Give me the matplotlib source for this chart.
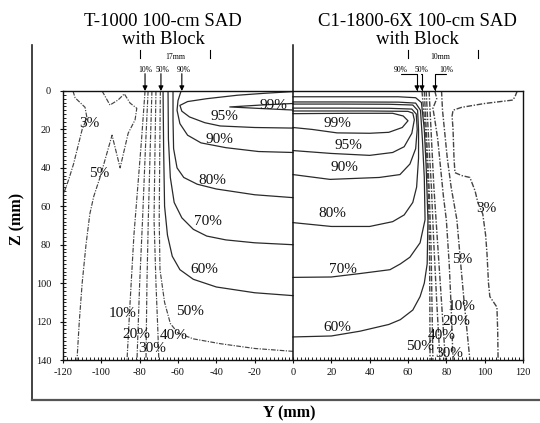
import matplotlib
matplotlib.use("Agg")
import matplotlib.pyplot as plt
from matplotlib.lines import Line2D
from matplotlib.ticker import MultipleLocator

plt.rcParams['font.family'] = ['Liberation Serif', 'DejaVu Serif']
plt.rcParams['axes.unicode_minus'] = False

# ---------------- data ----------------
left_title = ["T-1000 100-cm SAD", "with Block"]
right_title = ["C1-1800-6X 100-cm SAD", "with Block"]
x_ticks = [-120, -100, -80, -60, -40, -20, 0, 20, 40, 60, 80, 100, 120]
z_ticks = [0, 20, 40, 60, 80, 100, 120, 140]

# T-1000 isodose lines, points as (Y mm, Z mm)
T_99 = [(0, 6.5), (-15, 7.2), (-33, 8.3), (-15, 9.2), (0, 9.9)]
T_95 = [(0, 0.3), (-15, 1.2), (-29, 2.2), (-45, 4), (-55, 5.5), (-59, 7.5), (-58, 10.5),
        (-54, 13.5), (-46, 16.5), (-38, 18.2), (-20, 19), (0, 19.3)]
T_90 = [(-58.4, 0), (-60, 5), (-60.5, 10), (-59, 17), (-55, 23), (-48, 27), (-35, 29.5),
        (-18, 31.5), (0, 32)]
T_80 = [(-62.6, 0), (-62.6, 15), (-62.3, 30), (-60.5, 40), (-57, 45), (-50, 48.5),
        (-40, 51), (-20, 54), (0, 55.5)]
T_70 = [(-65.2, 0), (-65, 25), (-64, 45), (-62, 58), (-58, 66), (-52, 72), (-45, 75.5),
        (-35, 77.5), (-20, 79), (0, 80)]
T_60 = [(-67.8, 0), (-67.5, 30), (-67, 60), (-65.5, 75), (-63, 86), (-59, 93), (-52, 98),
        (-40, 102), (-20, 105), (0, 106.5)]
T_50 = [(-69.2, 0), (-69.5, 30), (-69.8, 67), (-69.4, 93), (-67, 110), (-64, 121),
        (-60, 126), (-52, 129), (-38, 131.5), (-20, 134), (0, 135.5)]
T_40 = [(-71.5, 0), (-72, 30), (-72.5, 67), (-71.5, 100), (-70.5, 125), (-70, 140)]
T_30 = [(-73.6, 0), (-74.5, 30), (-75.5, 67), (-76.2, 100), (-76.7, 140)]
T_20 = [(-75.6, 0), (-77, 30), (-78.5, 67), (-80, 100), (-81.4, 140)]
T_10 = [(-77.2, 0), (-79, 25), (-81, 50), (-83, 75), (-85, 110), (-86.6, 140)]
T_5 = [(-99.6, 0), (-95.5, 7.3), (-91.3, 4.7), (-88, 1.5), (-85, 6.3), (-81.5, 9),
       (-82.4, 15), (-86, 22), (-90.2, 40), (-94.4, 23), (-100.7, 45), (-104, 55),
       (-106, 64), (-108, 80), (-110, 100), (-111.5, 120), (-112.7, 140)]
T_3 = [(-114.8, 0), (-113.7, 3.5), (-108.5, 8.5), (-107.5, 14), (-110, 20), (-112, 28),
       (-114.5, 38), (-117, 46), (-119.5, 53)]

# C1-1800-6X isodose lines, points as (Y mm, Z mm)
C_99 = [(0, 11.8), (30, 11.6), (52, 11.6), (57.5, 13), (60, 15.5), (57, 19), (50, 21.5),
        (40, 22), (23, 21.8), (10, 20), (0, 19)]
C_95 = [(0, 10.4), (40, 10.4), (60, 10.6), (62.5, 11.5), (63.3, 15), (62, 22), (58, 29),
        (52, 32), (40, 33.5), (20, 32.5), (0, 31)]
C_90 = [(0, 8.9), (25, 8.9), (50, 9), (62, 9.4), (64.3, 12), (64.8, 20), (64, 30), (61, 38),
        (55.8, 43.5), (45, 45), (19.3, 46), (0, 43.5)]
C_80 = [(0, 6.8), (25, 6.8), (50, 6.9), (62.5, 7.3), (65, 10), (65.5, 20), (65.5, 35),
        (64.5, 50), (62.5, 58), (58, 64.5), (52, 68), (40, 70.5), (20, 70.5), (0, 68.5)]
C_70 = [(0, 5.7), (30, 5.7), (55, 5.8), (64, 6.3), (66.5, 10), (67.5, 25), (68.5, 45),
        (68.9, 67), (66.3, 79), (61, 86.5), (56, 90), (50.6, 93), (35, 95), (20, 96.8), (0, 97)]
C_60 = [(0, 3), (30, 3), (55, 3), (64, 3.5), (67, 6), (68.5, 20), (69.5, 40), (70.4, 67),
        (70, 90), (68.5, 100), (66.3, 107), (62.5, 114), (56, 119), (50, 121.5), (35, 125),
        (20, 127.5), (0, 128)]
C_50 = [(67.3, 0), (69, 20), (70.5, 50), (71.2, 80), (71.4, 110), (71.5, 140)]
C_40 = [(68.5, 0), (69.5, 20), (71, 50), (72, 80), (72.5, 110), (73, 140)]
C_30 = [(69.5, 0), (70.5, 20), (72.2, 50), (73.5, 80), (75, 110), (76.7, 140)]
C_20 = [(71, 0), (72, 20), (73.5, 50), (75.5, 80), (77.5, 110), (79.5, 140)]
C_10 = [(74, 0), (75, 4), (73, 9), (74, 15), (75.5, 25), (77, 40), (78.5, 55), (80, 67),
        (81.5, 90), (82.5, 112), (83.5, 140)]
C_5 = [(77.5, 0), (78, 10), (79, 20), (80.5, 35), (82.5, 50), (85.5, 67), (87.5, 90),
       (89.5, 112), (92.3, 140)]
C_3 = [(117, 0), (116, 2.5), (114.8, 4.7), (100, 6.5), (88, 8.5), (83.5, 10), (83, 13),
       (83.5, 20), (84, 35), (84.5, 42.5), (88, 44), (92.3, 45), (95, 52), (96.5, 58.3),
       (99, 64), (100.5, 75), (101.2, 84.4), (102, 100), (102.7, 107), (106.4, 112.5),
       (106.8, 125), (107, 140)]

t1000_lines = {"99%": T_99, "95%": T_95, "90%": T_90, "80%": T_80, "70%": T_70,
               "60%": T_60, "50%": T_50, "40%": T_40, "30%": T_30, "20%": T_20,
               "10%": T_10, "5%": T_5, "3%": T_3}
c1800_lines = {"99%": C_99, "95%": C_95, "90%": C_90, "80%": C_80, "70%": C_70,
               "60%": C_60, "50%": C_50, "40%": C_40, "30%": C_30, "20%": C_20,
               "10%": C_10, "5%": C_5, "3%": C_3}

# penumbra markers above the phantom surface
left_marker_text = ["10%", "50%", "90%"]
left_marker_y = [-77.2, -68.9, -58.0]
left_width_text = "17mm"
left_width_bounds = [-79.8, -43.3]
right_marker_text = ["90%", "50%", "10%"]
right_marker_y = [64.7, 67.3, 74.1]
right_width_text = "10mm"
right_width_bounds = [60.0, 96.5]

# ---------------- layout ----------------
t1000_label_pos = {"3%": (-106.4, 16.7), "5%": (-101, 43), "10%": (-89, 116),
                   "20%": (-81.6, 126.5), "30%": (-73.4, 134.2), "40%": (-62.5, 127.4),
                   "50%": (-53.7, 115), "60%": (-46.4, 92.7), "70%": (-44.3, 68),
                   "80%": (-42, 46.4), "90%": (-38.6, 25), "95%": (-36, 13.5),
                   "99%": (-10.4, 7.3)}
c1800_label_pos = {"99%": (23, 16.7), "95%": (28.7, 28.6), "90%": (26.6, 39.6),
                   "80%": (20.3, 64), "70%": (26, 92.7), "60%": (23, 123),
                   "50%": (66.3, 133.2), "40%": (77.7, 127.4), "30%": (81.2, 136.8),
                   "20%": (85, 120), "10%": (88.2, 112), "5%": (88.2, 87.5),
                   "3%": (100.7, 61)}
left_marker_text_x = [-77.2, -68.3, -56.9]
right_marker_text_x = [56.3, 66.8, 79.8]

W, H = 540, 423
fig = plt.figure(figsize=(W / 100, H / 100), dpi=100)
ax = fig.add_axes([63 / W, 1 - 360 / H, (523 - 63) / W, (360 - 91) / H])
ax.set_xlim(-120, 120)
ax.set_ylim(140, 0)

low_levels = {"3%", "5%", "10%", "20%", "30%", "40%", "50%"}


def draw(lines, dense=False):
    for lev, pts in lines.items():
        ys = [p[0] for p in pts]
        zs = [p[1] for p in pts]
        if lev in low_levels:
            ax.plot(ys, zs, color='#444444', lw=0.85 if not dense else 1.0,
                    ls=(0, (4, 1.2, 1, 1.2)), solid_capstyle='butt')
        else:
            ax.plot(ys, zs, color='#2a2a2a', lw=0.9)


draw(t1000_lines)
draw(c1800_lines, dense=True)

for lab, (x, z) in t1000_label_pos.items():
    ax.text(x, z, lab, fontsize=11, ha='center', va='center', color='#111111')
for lab, (x, z) in c1800_label_pos.items():
    ax.text(x, z, lab, fontsize=11, ha='center', va='center', color='#111111')

# central divider
ax.axvline(0, color='#111111', lw=1.1)
ax.plot([0, 0], [-24, 0], color='#111111', lw=1.1, clip_on=False)

# penumbra markers
for txt, tx, y in zip(left_marker_text, left_marker_text_x, left_marker_y):
    ax.text(tx, -11, txt, fontsize=5.5, ha='center', va='center')
    ax.annotate('', xy=(y, 0), xytext=(y, -9), annotation_clip=False,
                arrowprops=dict(arrowstyle='-|>', color='black', lw=0.8,
                                mutation_scale=7, shrinkA=0, shrinkB=0))
for txt, tx, y in zip(right_marker_text, right_marker_text_x, right_marker_y):
    ax.text(tx, -11, txt, fontsize=5.5, ha='center', va='center')
    ax.annotate('', xy=(y, 0), xytext=(tx, -9), annotation_clip=False,
                arrowprops=dict(arrowstyle='-|>', color='black', lw=0.8,
                                mutation_scale=7, shrinkA=0, shrinkB=0,
                                connectionstyle='angle,angleA=0,angleB=90,rad=0'))
for b in left_width_bounds:
    ax.plot([b, b], [-21.5, -17], color='black', lw=0.8, clip_on=False)
for b in right_width_bounds:
    ax.plot([b, b], [-21.5, -17], color='black', lw=0.8, clip_on=False)
ax.text(sum(left_width_bounds) / 2, -17.8, left_width_text, fontsize=5.5, ha='center', va='center')
ax.text(sum(right_width_bounds) / 2 - 1.5, -17.8, right_width_text, fontsize=5.5, ha='center', va='center')

# axes styling
ax.set_xticks(x_ticks)
ax.set_xticklabels([str(v) for v in x_ticks])
ax.set_yticks(z_ticks)
ax.set_yticklabels([str(v) for v in z_ticks])
ax.xaxis.set_minor_locator(MultipleLocator(2))
ax.yaxis.set_minor_locator(MultipleLocator(2))
ax.tick_params(axis='both', which='major', direction='inout', length=5, width=0.8,
               labelsize=7.5, pad=3, colors='#111111')
ax.tick_params(axis='both', which='minor', direction='in', length=2.5, width=0.6)
ax.tick_params(axis='y', which='major', pad=6)
for s in ax.spines.values():
    s.set_linewidth(1.0)
    s.set_color('#111111')

fig.text(163 / W, 1 - 22 / H, left_title[0], fontsize=13.5, ha='center', va='center')
fig.text(163 / W, 1 - 40 / H, left_title[1], fontsize=13.5, ha='center', va='center')
fig.text(417 / W, 1 - 22 / H, right_title[0], fontsize=13.5, ha='center', va='center')
fig.text(417 / W, 1 - 40 / H, right_title[1], fontsize=13.5, ha='center', va='center')

fig.text(17 / W, 1 - 219 / H, "Z (mm)", fontsize=11.5, fontweight='bold', rotation=90,
         ha='center', va='center')
fig.text(289 / W, 1 - 413 / H, "Y (mm)", fontsize=11.5, fontweight='bold',
         ha='center', va='center')

# outer frame (left and bottom)
fig.add_artist(Line2D([32 / W, 32 / W], [1 - 45 / H, 1 - 400 / H], transform=fig.transFigure,
                      color='#222222', lw=1.2))
fig.add_artist(Line2D([32 / W, 1.0], [1 - 400 / H, 1 - 400 / H], transform=fig.transFigure,
                      color='#555555', lw=1.6))

fig.savefig("out.png", dpi=100)
